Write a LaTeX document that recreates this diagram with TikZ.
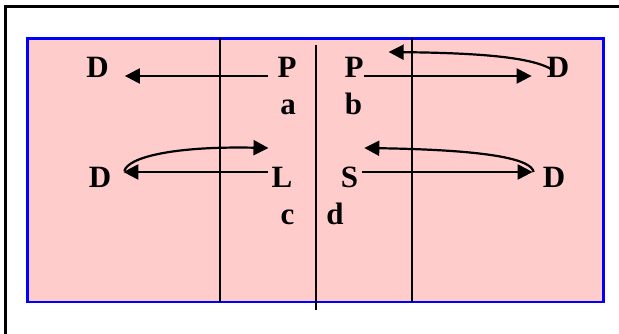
\documentclass[tikz,border=0pt]{standalone}
\usepackage{fontspec}
\setmainfont{Liberation Serif}
\usetikzlibrary{arrows.meta}
\definecolor{courtpink}{RGB}{255,204,204}
\definecolor{courtblue}{RGB}{0,0,255}
\tikzset{
  lbl/.style={inner sep=0pt, anchor=base, font=\fontsize{31}{31}\selectfont\bfseries},
  arr/.style={line width=2.2pt, -{Triangle[length=15pt,width=15pt]}},
  court/.style={line width=1.6pt, black},
}
\begin{document}
\begin{tikzpicture}[x=1pt,y=-1pt]
\useasboundingbox (0,0) rectangle (619,334);
% outer frame (only top and left visible)
\draw[line width=2.5pt] (5.7,334) -- (5.7,6.7) -- (619,6.7);
% court
\filldraw[fill=courtpink, draw=courtblue, line width=2.5pt] (27.7,38.3) rectangle (603.7,302);
\draw[court] (220,38.3) -- (220,302);
\draw[court] (412,38.3) -- (412,302);
\draw[court] (316,45) -- (316,310);
% labels
\node[lbl] (D1) at (97.5,78) {D};
\node[lbl] (P1) at (287,78) {P};
\node[lbl] (P2) at (354,78) {P};
\node[lbl] (D2) at (558,78) {D};
\node[lbl] (a) at (288,115) {a};
\node[lbl] (b) at (353.5,115) {b};
\node[lbl] (D3) at (100,188) {D};
\node[lbl] (L) at (282,188) {L};
\node[lbl] (S) at (349.5,188) {S};
\node[lbl] (D4) at (554,188) {D};
\node[lbl] (c) at (287.5,225) {c};
\node[lbl] (d) at (335,225) {d};
% arrows
\draw[arr] ([shift={(-9,-2)}]P1.base west) -- ([shift={(16,-2)}]D1.base east);
\draw[arr] ([shift={(0,-2)}]P2.base east) -- ([shift={(-15,-2)}]D2.base west);
\draw[arr] ([shift={(6,-8)}]D2.base west) .. controls +(-20,-13) and +(90,1) .. ([shift={(25,-26)}]P2.base east);
\draw[arr] ([shift={(-3,-16)}]L.base west) -- ([shift={(12,-16)}]D3.base east);
\draw[arr] ([shift={(13,-17)}]D3.base east) .. controls +(3,-13) and +(-98,-2) .. ([shift={(-3,-40)}]L.base west);
\draw[arr] ([shift={(4,-16)}]S.base east) -- ([shift={(-10,-16)}]D4.base west);
\draw[arr] ([shift={(-9,-16)}]D4.base west) .. controls +(-2,-12) and +(130,2) .. ([shift={(6,-40)}]S.base east);
\end{tikzpicture}
\end{document}
